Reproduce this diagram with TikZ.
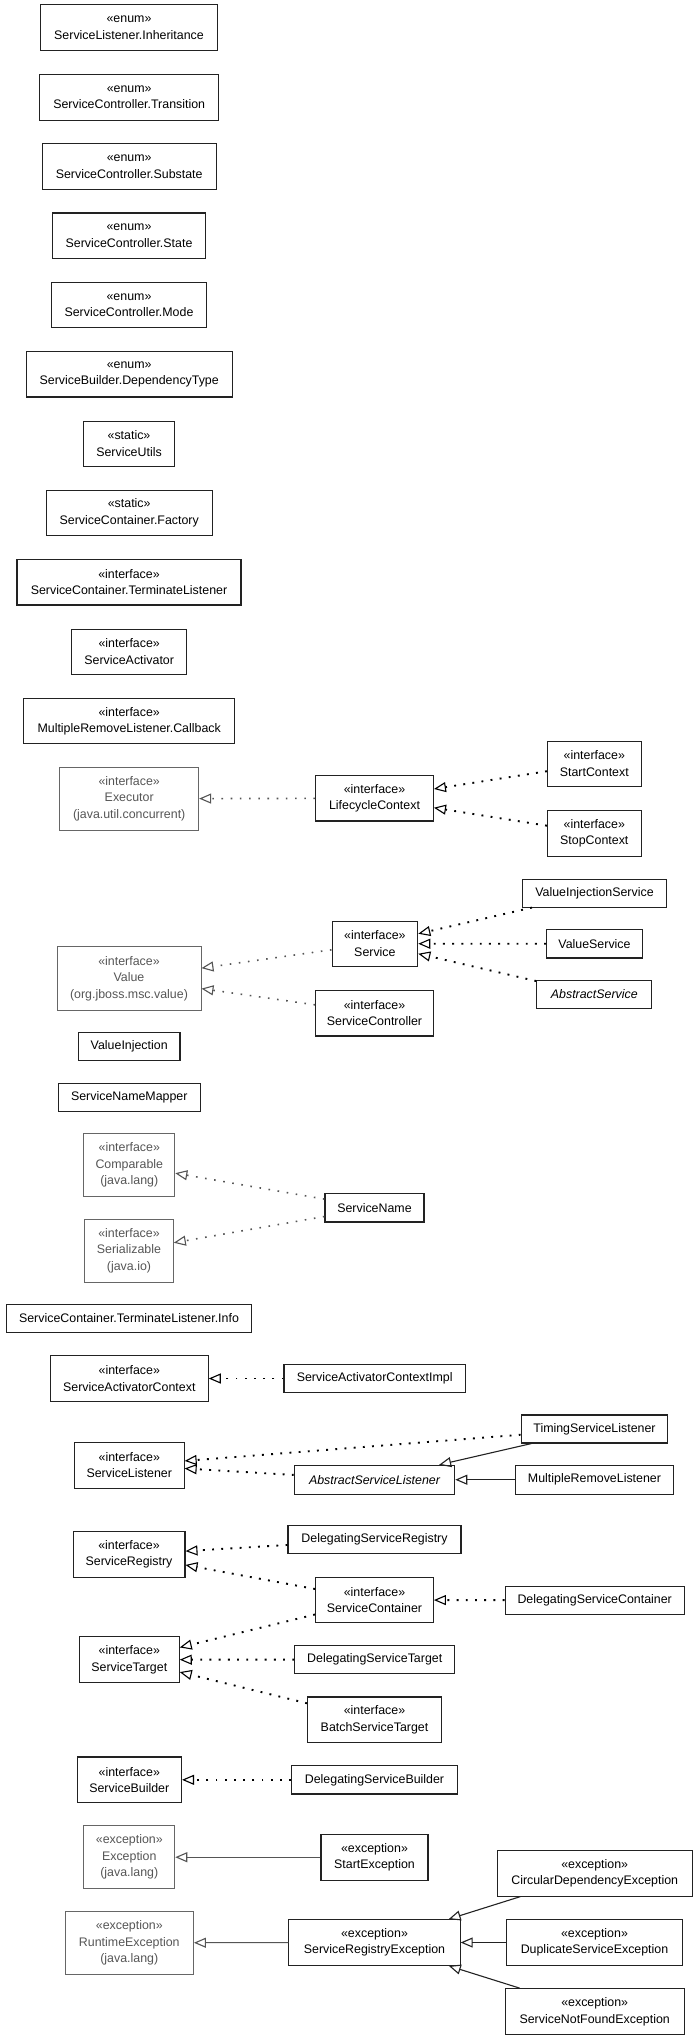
\documentclass[tikz,border=0pt]{standalone}
\usepackage{fontspec}
\setmainfont{Liberation Sans}
\usetikzlibrary{arrows.meta}
\definecolor{extgray}{HTML}{555555}
\definecolor{boxblack}{HTML}{222222}
\tikzset{
  cls/.style={draw=boxblack, line width=1.1pt, inner sep=0pt, align=center, text=black,
    font=\fontsize{12.4}{16.5}\selectfont},
  ext/.style={cls, draw=extgray!90, line width=0.9pt, text=extgray},
  opentip/.style={-{Triangle[open,length=12pt,width=10pt,line width=1.1pt]}},
  impl/.style={opentip, draw=black, line width=1.9pt, dash pattern=on 1.9pt off 7.3pt},
  implx/.style={opentip, draw=extgray, line width=1.6pt, dash pattern=on 1.6pt off 7.6pt},
  inh/.style={opentip, draw=boxblack, line width=1.1pt},
  inhx/.style={opentip, draw=extgray, line width=1pt}
}
\begin{document}
\begin{tikzpicture}[x=1pt,y=-1pt]
\useasboundingbox (0,0) rectangle (699,2040);
% left column of standalone classes
\node[cls, minimum width=176.6pt, minimum height=46pt] (inh) at (129,27.7) {«enum»\\ServiceListener.Inheritance};
\node[cls, minimum width=179pt, minimum height=45.7pt] (trans) at (129.2,97.2) {«enum»\\ServiceController.Transition};
\node[cls, minimum width=173.7pt, minimum height=45.6pt] (subst) at (129.2,166.5) {«enum»\\ServiceController.Substate};
\node[cls, minimum width=152.6pt, minimum height=45.7pt] (state) at (129,235.8) {«enum»\\ServiceController.State};
\node[cls, minimum width=155.4pt, minimum height=45.4pt] (mode) at (129,305) {«enum»\\ServiceController.Mode};
\node[cls, minimum width=205.7pt, minimum height=45.3pt] (deptype) at (129.2,374.3) {«enum»\\ServiceBuilder.DependencyType};
\node[cls, minimum width=91.4pt, minimum height=45.3pt] (utils) at (129,443.7) {«static»\\ServiceUtils};
\node[cls, minimum width=165.7pt, minimum height=45.4pt] (factory) at (129.2,513) {«static»\\ServiceContainer.Factory};
\node[cls, minimum width=224pt, minimum height=45.3pt] (termlist) at (129,582.3) {«interface»\\ServiceContainer.TerminateListener};
\node[cls, minimum width=115pt, minimum height=45.3pt] (activator) at (129.2,651.7) {«interface»\\ServiceActivator};
\node[cls, minimum width=211pt, minimum height=45pt] (callback) at (129.2,721.2) {«interface»\\MultipleRemoveListener.Callback};
% lifecycle group
\node[ext, minimum width=139pt, minimum height=62.7pt] (executor) at (129.2,798.7) {«interface»\\Executor\\(java.util.concurrent)};
\node[cls, minimum width=117.8pt, minimum height=45.3pt] (lifecycle) at (374.5,798.3) {«interface»\\LifecycleContext};
\node[cls, minimum width=93.6pt, minimum height=45pt] (startctx) at (594.3,763.8) {«interface»\\StartContext};
\node[cls, minimum width=93.6pt, minimum height=45.7pt] (stopctx) at (594.3,833.2) {«interface»\\StopContext};
% service group
\node[cls, minimum width=144pt, minimum height=27.7pt] (valinjsvc) at (594.5,893.2) {ValueInjectionService};
\node[cls, minimum width=85.7pt, minimum height=45.3pt] (service) at (374.9,943.7) {«interface»\\Service};
\node[cls, minimum width=95.8pt, minimum height=28.3pt] (valsvc) at (594.5,943.8) {ValueService};
\node[cls, minimum width=115pt, minimum height=28.3pt] (abssvc) at (594.3,994.5) {\itshape AbstractService};
\node[ext, minimum width=144pt, minimum height=63.3pt] (value) at (129,978.3) {«interface»\\Value\\(org.jboss.msc.value)};
\node[cls, minimum width=117.8pt, minimum height=45.3pt] (svcctrl) at (374.5,1013.3) {«interface»\\ServiceController};
\node[cls, minimum width=101.5pt, minimum height=28.3pt] (valinj) at (129.2,1046.5) {ValueInjection};
\node[cls, minimum width=141.8pt, minimum height=28.3pt] (mapper) at (129.3,1097.2) {ServiceNameMapper};
% service name group
\node[ext, minimum width=91pt, minimum height=63pt] (comparable) at (129.3,1165.2) {«interface»\\Comparable\\(java.lang)};
\node[cls, minimum width=99pt, minimum height=28.3pt] (svcname) at (374.5,1207.8) {ServiceName};
\node[ext, minimum width=88.7pt, minimum height=63pt] (serializable) at (129,1250.5) {«interface»\\Serializable\\(java.io)};
\node[cls, minimum width=245.7pt, minimum height=28pt] (info) at (129,1318.3) {ServiceContainer.TerminateListener.Info};
% activator context
\node[cls, minimum width=157.8pt, minimum height=45.6pt] (actctx) at (129.3,1378.5) {«interface»\\ServiceActivatorContext};
\node[cls, minimum width=181.4pt, minimum height=28.4pt] (actctximpl) at (374.7,1378.5) {ServiceActivatorContextImpl};
% listeners
\node[cls, minimum width=146.6pt, minimum height=28pt] (timing) at (594.5,1429) {TimingServiceListener};
\node[cls, minimum width=109.6pt, minimum height=45.7pt] (svclistener) at (129.3,1465.2) {«interface»\\ServiceListener};
\node[cls, minimum width=160.5pt, minimum height=28.7pt] (abslistener) at (374.5,1479.7) {\itshape AbstractServiceListener};
\node[cls, minimum width=157.4pt, minimum height=28.7pt] (multirem) at (594.5,1479.7) {MultipleRemoveListener};
% registry / container / target
\node[cls, minimum width=111.9pt, minimum height=45.6pt] (registry) at (129,1554.5) {«interface»\\ServiceRegistry};
\node[cls, minimum width=173pt, minimum height=28pt] (delreg) at (374.5,1539.7) {DelegatingServiceRegistry};
\node[cls, minimum width=117.8pt, minimum height=45.4pt] (container) at (374.5,1600) {«interface»\\ServiceContainer};
\node[cls, minimum width=179.3pt, minimum height=28.3pt] (delcont) at (594.7,1600.2) {DelegatingServiceContainer};
\node[cls, minimum width=99.8pt, minimum height=46pt] (target) at (129.3,1659.7) {«interface»\\ServiceTarget};
\node[cls, minimum width=160pt, minimum height=28.4pt] (deltarget) at (374.7,1659.5) {DelegatingServiceTarget};
\node[cls, minimum width=133.8pt, minimum height=45.7pt] (batch) at (374.5,1719.8) {«interface»\\BatchServiceTarget};
\node[cls, minimum width=104.4pt, minimum height=45.7pt] (builder) at (129.3,1779.8) {«interface»\\ServiceBuilder};
\node[cls, minimum width=165.8pt, minimum height=28.3pt] (delbuilder) at (374.5,1779.8) {DelegatingServiceBuilder};
% exceptions
\node[ext, minimum width=91pt, minimum height=63pt] (exception) at (129.3,1857.2) {«exception»\\Exception\\(java.lang)};
\node[cls, minimum width=107pt, minimum height=45.7pt] (startexc) at (374.5,1857.2) {«exception»\\StartException};
\node[cls, minimum width=195.3pt, minimum height=45.7pt] (circular) at (594.7,1873.2) {«exception»\\CircularDependencyException};
\node[ext, minimum width=128.4pt, minimum height=63pt] (runtime) at (129.3,1942.8) {«exception»\\RuntimeException\\(java.lang)};
\node[cls, minimum width=171.2pt, minimum height=45.6pt] (regexc) at (374.5,1942.5) {«exception»\\ServiceRegistryException};
\node[cls, minimum width=176.1pt, minimum height=45.6pt] (dupexc) at (594.5,1942.5) {«exception»\\DuplicateServiceException};
\node[cls, minimum width=179.2pt, minimum height=46pt] (notfound) at (594.7,2011.7) {«exception»\\ServiceNotFoundException};
% connectors
\draw[implx] (lifecycle) -- (executor);
\draw[impl] (startctx) -- (lifecycle);
\draw[impl] (stopctx) -- (lifecycle);
\draw[implx] (service) -- (value);
\draw[implx] (svcctrl) -- (value);
\draw[impl] (valinjsvc) -- (service);
\draw[impl] (valsvc) -- (service);
\draw[impl] (abssvc) -- (service);
\draw[implx] (svcname) -- (comparable);
\draw[implx] (svcname) -- (serializable);
\draw[impl] (actctximpl) -- (actctx);
\draw[impl] (timing) -- (svclistener);
\draw[impl] (abslistener) -- (svclistener);
\draw[inh] (timing) -- (abslistener);
\draw[inh] (multirem) -- (abslistener);
\draw[impl] (delreg) -- (registry);
\draw[impl] (container) -- (registry);
\draw[impl] (delcont) -- (container);
\draw[impl] (container) -- (target);
\draw[impl] (deltarget) -- (target);
\draw[impl] (batch) -- (target);
\draw[impl] (delbuilder) -- (builder);
\draw[inhx] (startexc) -- (exception);
\draw[inhx] (regexc) -- (runtime);
\draw[inh] (circular) -- (regexc);
\draw[inh] (dupexc) -- (regexc);
\draw[inh] (notfound) -- (regexc);
\end{tikzpicture}
\end{document}
